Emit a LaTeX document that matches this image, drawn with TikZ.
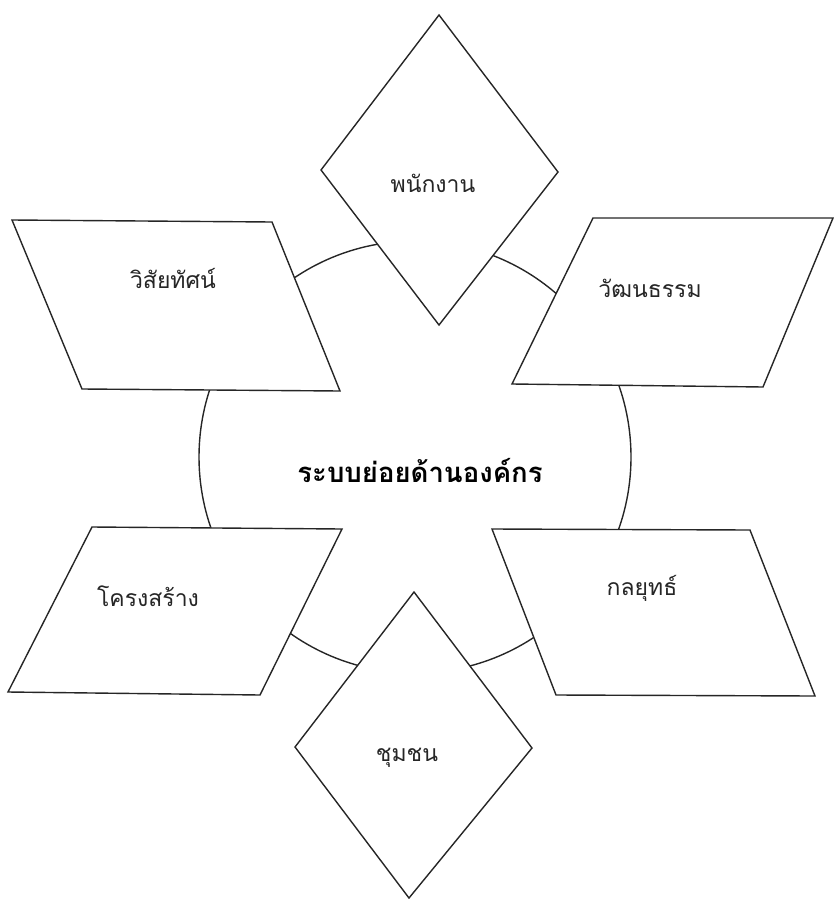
\documentclass[tikz,border=0pt]{standalone}
\usepackage{fontspec}
\newfontfamily\thaifont[Script=Thai]{Loma}
\begin{document}
\begin{tikzpicture}[x=1pt,y=-1pt,
  outline/.style={draw=black!85,line width=1.4pt,fill=white,line join=miter},
  lbl/.style={font=\thaifont\fontsize{23}{26}\selectfont,inner sep=0pt,text=black!85},
  hub/.style={font=\thaifont\bfseries\fontsize{27.5}{30}\selectfont,inner sep=0pt,text=black}]
\useasboundingbox (0,0) rectangle (833,899);
% central circle
\draw[draw=black!85,line width=1.4pt] (415,457) circle[radius=216];
\node[hub] (hubtext) at (420,470) {ระบบย่อยด้านองค์กร};
% shapes
\draw[outline] (12,220) -- (272,222) -- (340,391) -- (82,389) -- cycle;
\node[lbl] (vision) at (173,278) {วิสัยทัศน์};
\draw[outline] (593,218) -- (833,218) -- (763,387) -- (512,384) -- cycle;
\node[lbl] (culture) at (650,288) {วัฒนธรรม};
\draw[outline] (92,527) -- (342,529) -- (260,695) -- (8,692) -- cycle;
\node[lbl] (structure) at (148,596) {โครงสร้าง};
\draw[outline] (492,529) -- (750,530) -- (815,696) -- (556,695) -- cycle;
\node[lbl] (strategy) at (642,588) {กลยุทธ์};
\draw[outline] (439,15) -- (558,172) -- (439,325) -- (321,170) -- cycle;
\node[lbl] (staff) at (433,183) {พนักงาน};
\draw[outline] (414,592) -- (532,748) -- (409,898) -- (295,747) -- cycle;
\node[lbl] (community) at (407,758) {ชุมชน};
\end{tikzpicture}
\end{document}
